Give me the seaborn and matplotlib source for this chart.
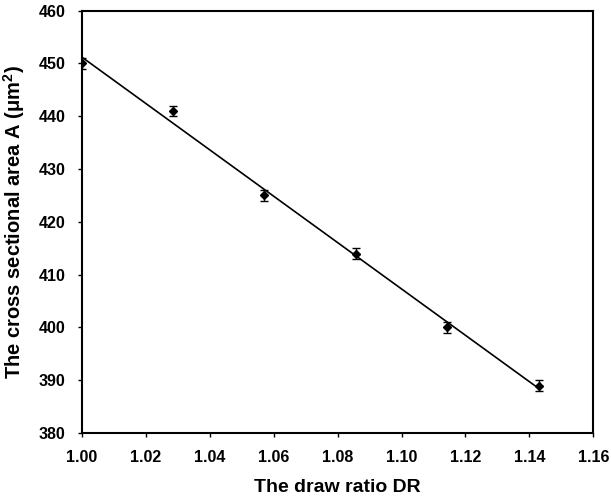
import numpy as np
import pandas as pd
import matplotlib
matplotlib.use("Agg")
import matplotlib.pyplot as plt
import seaborn as sns

# ---- data ----
draw_ratio = [1.0000, 1.0286, 1.0571, 1.0857, 1.1143, 1.1429]
area = [450, 441, 425, 414, 400, 389]
area_err = [1.0, 1.0, 1.0, 1.0, 1.0, 1.0]

x_ticks = [1.00, 1.02, 1.04, 1.06, 1.08, 1.10, 1.12, 1.14, 1.16]
y_ticks = [380, 390, 400, 410, 420, 430, 440, 450, 460]

df = pd.DataFrame({"DR": draw_ratio, "A": area, "err": area_err})

sns.set_style("ticks", {"axes.labelcolor": "black", "text.color": "black",
                        "xtick.color": "black", "ytick.color": "black",
                        "axes.edgecolor": "black"})
plt.rcParams['font.family'] = ['Liberation Sans', 'DejaVu Sans']
plt.rcParams['mathtext.fontset'] = 'custom'
plt.rcParams['mathtext.rm'] = 'Liberation Sans:bold'
plt.rcParams['mathtext.it'] = 'Liberation Sans:bold'
plt.rcParams['mathtext.bf'] = 'Liberation Sans:bold'

fig = plt.figure(figsize=(6.11, 5.03), dpi=100)
ax = fig.add_axes([0.134, 0.139, 0.837, 0.840])

# linear fit
sns.regplot(data=df, x="DR", y="A", ax=ax, scatter=False, ci=None,
            color="black", line_kws={"linewidth": 1.2})

# points with error bars
ax.errorbar(df["DR"], df["A"], yerr=df["err"], fmt="D", color="black",
            markersize=4, capsize=3, elinewidth=1, capthick=1)

ax.set_xlim(1.00, 1.16)
ax.set_ylim(380, 460)
ax.set_xticks(x_ticks)
ax.set_yticks(y_ticks)
ax.set_xticklabels([f"{t:.2f}" for t in x_ticks], fontsize=11.5, fontweight="bold")
ax.set_yticklabels([str(t) for t in y_ticks], fontsize=11.5, fontweight="bold")

ax.set_xlabel("The draw ratio DR", fontsize=14, fontweight="bold", labelpad=10)
ax.set_ylabel(r"The cross sectional area A ($\mu$m$^2$)", fontsize=14.5,
              fontweight="bold", labelpad=8)

for s in ax.spines.values():
    s.set_visible(True)
    s.set_linewidth(1.5)
    s.set_color("black")
ax.tick_params(direction="out", length=3, width=1, pad=9, colors="black")

fig.savefig("out.png", dpi=100)
